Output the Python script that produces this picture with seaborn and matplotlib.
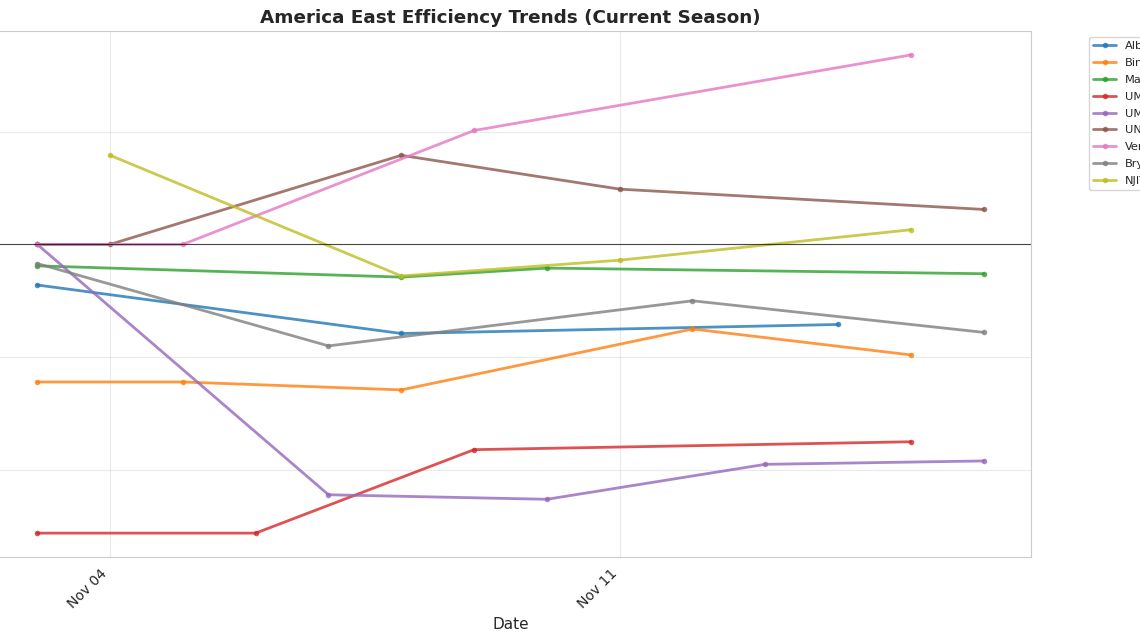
import pandas as pd
import matplotlib
matplotlib.use("Agg")
import matplotlib.pyplot as plt
import matplotlib.dates as mdates
import seaborn as sns

# Net efficiency per team
TEAMS = ["Albany", "Binghamton", "Maine", "UMBC", "UMass Lowell", "UNH",
         "Vermont", "Bryant", "NJIT"]

albany_dates = ["2024-11-03", "2024-11-08", "2024-11-14"]
albany_vals = [-1.8, -3.95, -3.55]

binghamton_dates = ["2024-11-03", "2024-11-05", "2024-11-08", "2024-11-12", "2024-11-15"]
binghamton_vals = [-6.1, -6.1, -6.45, -3.75, -4.9]

maine_dates = ["2024-11-03", "2024-11-08", "2024-11-10", "2024-11-16"]
maine_vals = [-0.95, -1.45, -1.05, -1.3]

umbc_dates = ["2024-11-03", "2024-11-06", "2024-11-09", "2024-11-15"]
umbc_vals = [-12.8, -12.8, -9.1, -8.75]

uml_dates = ["2024-11-03", "2024-11-07", "2024-11-10", "2024-11-13", "2024-11-16"]
uml_vals = [0.0, -11.1, -11.3, -9.75, -9.6]

unh_dates = ["2024-11-03", "2024-11-04", "2024-11-08", "2024-11-11", "2024-11-16"]
unh_vals = [0.0, 0.0, 3.95, 2.45, 1.55]

vermont_dates = ["2024-11-03", "2024-11-05", "2024-11-09", "2024-11-15"]
vermont_vals = [0.0, 0.0, 5.05, 8.4]

bryant_dates = ["2024-11-03", "2024-11-07", "2024-11-12", "2024-11-16"]
bryant_vals = [-0.85, -4.5, -2.5, -3.9]

njit_dates = ["2024-11-04", "2024-11-08", "2024-11-11", "2024-11-15"]
njit_vals = [3.95, -1.4, -0.7, 0.65]

SERIES = {
    "Albany": (albany_dates, albany_vals),
    "Binghamton": (binghamton_dates, binghamton_vals),
    "Maine": (maine_dates, maine_vals),
    "UMBC": (umbc_dates, umbc_vals),
    "UMass Lowell": (uml_dates, uml_vals),
    "UNH": (unh_dates, unh_vals),
    "Vermont": (vermont_dates, vermont_vals),
    "Bryant": (bryant_dates, bryant_vals),
    "NJIT": (njit_dates, njit_vals),
}

sns.set_style("whitegrid")

records = []
for team in TEAMS:
    dates, vals = SERIES[team]
    for d, v in zip(dates, vals):
        records.append({"date": pd.Timestamp(d), "efficiency": v, "team": team})
df = pd.DataFrame(records)

fig = plt.figure(figsize=(11.4, 6.41), dpi=100)
ax = fig.add_axes([-0.0088, 0.131, 0.9132, 0.8206])

sns.lineplot(data=df, x="date", y="efficiency", hue="team", hue_order=TEAMS,
             palette="tab10", marker="o", markersize=4, markeredgewidth=0,
             linewidth=2, alpha=0.8, ax=ax)
ax.axhline(0, color="black", linewidth=0.8, alpha=0.7)

ax.set_title("America East Efficiency Trends (Current Season)", fontsize=13.2, fontweight="bold")
ax.set_xlabel("Date", fontsize=11)
ax.set_ylabel("")
ax.xaxis.set_major_locator(mdates.WeekdayLocator(byweekday=mdates.MO))
ax.xaxis.set_major_formatter(mdates.DateFormatter("%b %d"))
plt.setp(ax.get_xticklabels(), rotation=45, ha="right", fontsize=10)
ax.grid(True, alpha=0.4)

ax.legend(bbox_to_anchor=(1.05, 1), loc="upper left", fontsize=8.2, labelspacing=0.6)

fig.savefig("out.png", dpi=100)
